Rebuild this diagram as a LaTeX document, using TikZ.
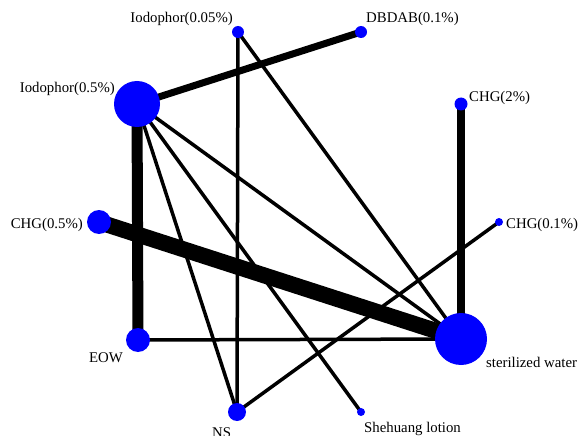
\documentclass[tikz,border=0pt]{standalone}
\usepackage{fontspec}
\setmainfont{Liberation Serif}
\usetikzlibrary{backgrounds}
\begin{document}
\begin{tikzpicture}[x=1pt,y=-1pt,
  vtx/.style={circle,fill=blue,draw=none,inner sep=0pt,minimum size=#1},
  lbl/.style={inner sep=0pt,font=\fontsize{14.8}{16}\selectfont},
  link/.style={line width=#1,black}]
\useasboundingbox (0,0) rectangle (579,436);
% vertices
\node[vtx=12pt] (i005) at (238,32) {};
\node[vtx=12pt] (dbdab) at (361,32) {};
\node[vtx=46pt] (i05) at (137,104) {};
\node[vtx=13pt] (chg2) at (461,104) {};
\node[vtx=8pt] (chg01) at (499,222) {};
\node[vtx=24pt] (chg05) at (99,222) {};
\node[vtx=24pt] (eow) at (138,340) {};
\node[vtx=52pt] (sw) at (461,339) {};
\node[vtx=18pt] (ns) at (237,412) {};
\node[vtx=8pt] (she) at (361,412) {};
% labels
\node[lbl,anchor=base east] (li005) at (233,23) {Iodophor(0.05\%)};
\node[lbl,anchor=base west] (ldbdab) at (366,23) {DBDAB(0.1\%)};
\node[lbl,anchor=base east] (li05) at (115,93) {Iodophor(0.5\%)};
\node[lbl,anchor=base west] (lchg2) at (469,102) {CHG(2\%)};
\node[lbl,anchor=base west] (lchg01) at (506,228) {CHG(0.1\%)};
\node[lbl,anchor=base east] (lchg05) at (83,228) {CHG(0.5\%)};
\node[lbl,anchor=base east] (leow) at (123,362) {EOW};
\node[lbl,anchor=base west] (lsw) at (486,367) {sterilized water};
\node[lbl,anchor=base west] (lns) at (212,437) {NS};
\node[lbl,anchor=base west] (lshe) at (364,432) {Shehuang lotion};
% edges
\begin{scope}[on background layer]
\draw[link=7pt] (i05.center) -- (dbdab.center);
\draw[link=11pt] (i05.center) -- (eow.center);
\draw[link=16pt] (chg05.center) -- (sw.center);
\draw[link=8pt] (chg2.center) -- (sw.center);
\draw[link=3.5pt] (i005.center) -- (ns.center);
\draw[link=3.5pt] (i005.center) -- (sw.center);
\draw[link=3.5pt] (i05.center) -- (ns.center);
\draw[link=3.5pt] (i05.center) -- (she.center);
\draw[link=3.5pt] (i05.center) -- (sw.center);
\draw[link=3.5pt] (eow.center) -- (sw.center);
\draw[link=3.5pt] (ns.center) -- (chg01.center);
\end{scope}
\end{tikzpicture}
\end{document}
